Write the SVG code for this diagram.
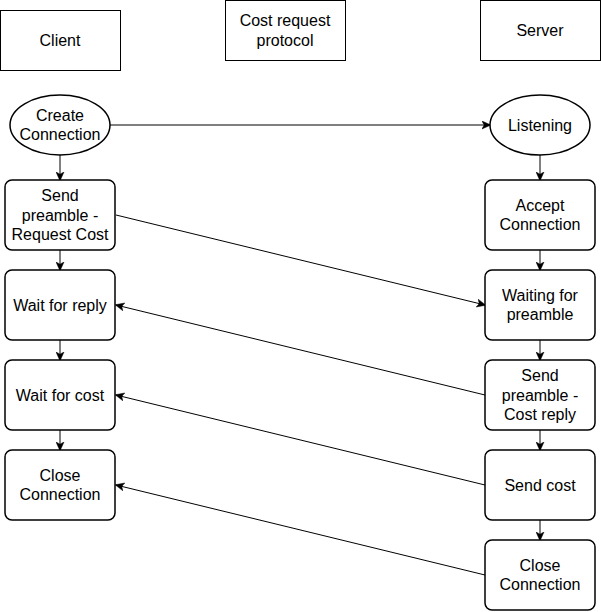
<svg xmlns="http://www.w3.org/2000/svg" width="601" height="612" viewBox="0 0 601 612">
<defs>
<style>
text{font-family:"Liberation Sans",Arial,sans-serif;font-size:16px;fill:#000;text-anchor:middle}
.hdr{fill:#fff;stroke:#000;stroke-width:1}
.node{fill:#fff;stroke:#000;stroke-width:1.5}
.conn{fill:none;stroke:#000;stroke-width:1;marker-end:url(#arr)}
</style>
<marker id="arr" viewBox="0 0 10 10" refX="9" refY="5" markerWidth="9" markerHeight="9" markerUnits="userSpaceOnUse" orient="auto">
<path d="M0,0.5 L10,5 L0,9.5 L2.5,5 Z" fill="#000" stroke="#000" stroke-width="0.5"/>
</marker>
</defs>
<rect width="601" height="612" fill="#fff"/>
<g id="connectors">
<path class="conn" d="M110,125 L490,125"/>
<path class="conn" d="M60,155 L60,180"/>
<path class="conn" d="M60,250 L60,270"/>
<path class="conn" d="M60,340 L60,360"/>
<path class="conn" d="M60,430 L60,450"/>
<path class="conn" d="M540,155 L540,180"/>
<path class="conn" d="M540,250 L540,270"/>
<path class="conn" d="M540,340 L540,360"/>
<path class="conn" d="M540,430 L540,450"/>
<path class="conn" d="M540,520 L540,540"/>
<path class="conn" d="M116,215 L485,305"/>
<path class="conn" d="M485,395 L116,305"/>
<path class="conn" d="M485,485 L116,395"/>
<path class="conn" d="M485,575 L116,485"/>
</g>
<g id="client"><rect class="hdr" x="0.5" y="10.5" width="120" height="60"/><text x="60" y="46">Client</text></g>
<g id="protocol"><rect class="hdr" x="225.5" y="0.5" width="120" height="60"/><text x="285" y="26">Cost request</text><text x="285" y="45.5">protocol</text></g>
<g id="server"><rect class="hdr" x="480.5" y="0.5" width="120" height="60"/><text x="540" y="36">Server</text></g>
<g id="create"><ellipse class="node" cx="60" cy="125" rx="50" ry="30"/><text x="60" y="121">Create</text><text x="60" y="140">Connection</text></g>
<g id="listening"><ellipse class="node" cx="540" cy="125" rx="50" ry="30"/><text x="540" y="130.5">Listening</text></g>
<g id="send-preamble-req"><rect class="node" x="5" y="180" width="110" height="70" rx="7"/><text x="60" y="201.3">Send</text><text x="60" y="220.5">preamble -</text><text x="60" y="239.7">Request Cost</text></g>
<g id="wait-reply"><rect class="node" x="5" y="270" width="110" height="70" rx="7"/><text x="60" y="310.5">Wait for reply</text></g>
<g id="wait-cost"><rect class="node" x="5" y="360" width="110" height="70" rx="7"/><text x="60" y="400.5">Wait for cost</text></g>
<g id="close-client"><rect class="node" x="5" y="450" width="110" height="70" rx="7"/><text x="60" y="480.9">Close</text><text x="60" y="500.1">Connection</text></g>
<g id="accept"><rect class="node" x="485" y="180" width="110" height="70" rx="7"/><text x="540" y="210.9">Accept</text><text x="540" y="230.1">Connection</text></g>
<g id="waiting-preamble"><rect class="node" x="485" y="270" width="110" height="70" rx="7"/><text x="540" y="300.9">Waiting for</text><text x="540" y="320.1">preamble</text></g>
<g id="send-preamble-reply"><rect class="node" x="485" y="360" width="110" height="70" rx="7"/><text x="540" y="381.3">Send</text><text x="540" y="400.5">preamble -</text><text x="540" y="419.7">Cost reply</text></g>
<g id="send-cost"><rect class="node" x="485" y="450" width="110" height="70" rx="7"/><text x="540" y="490.5">Send cost</text></g>
<g id="close-server"><rect class="node" x="485" y="540" width="110" height="70" rx="7"/><text x="540" y="570.9">Close</text><text x="540" y="590.1">Connection</text></g>
</svg>
